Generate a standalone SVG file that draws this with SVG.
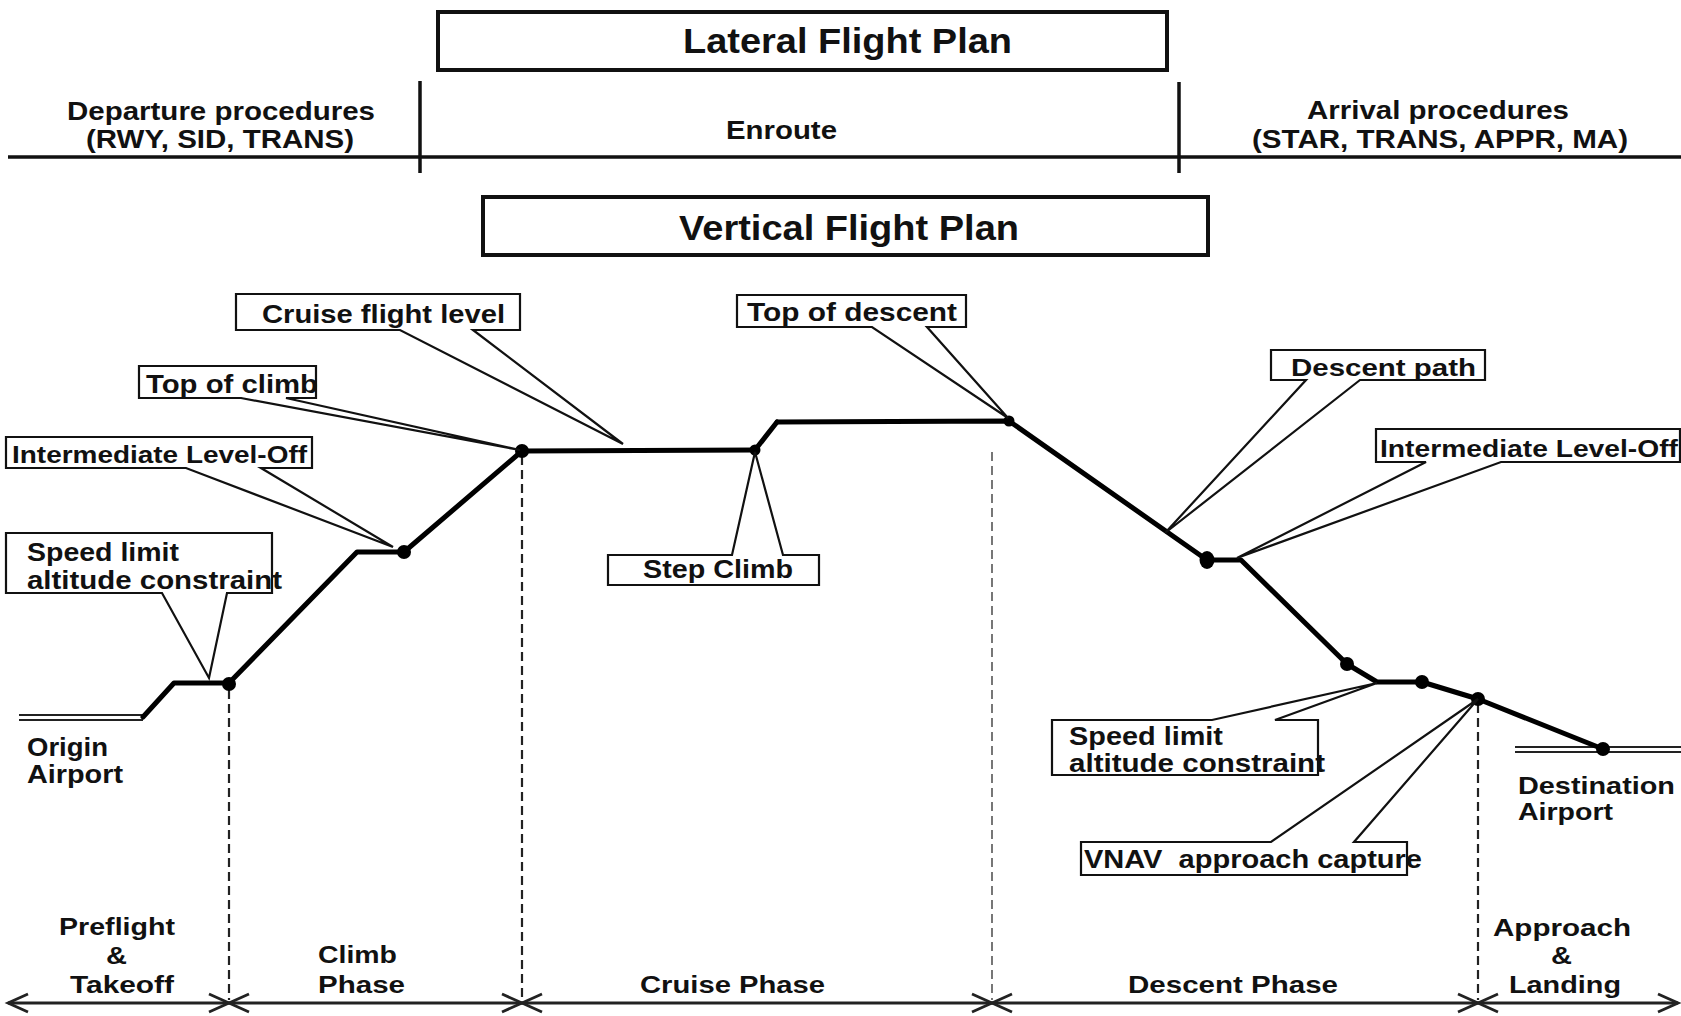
<svg xmlns="http://www.w3.org/2000/svg" width="1681" height="1016" viewBox="0 0 1681 1016">
<style>
text{font-family:"Liberation Sans",Arial,sans-serif;font-weight:bold;fill:#111;}
.t23{font-size:25px;}
.t22{font-size:24px;}
.t24{font-size:26px;}
.big{font-size:35px;}
.ph{font-size:24px;}
.box{fill:none;stroke:#111;stroke-width:4;}
.co{fill:none;stroke:#111;stroke-width:2.2;stroke-linejoin:miter;}
.rule{stroke:#111;stroke-width:3.5;fill:none;}
.path{fill:none;stroke:#000;stroke-width:5;stroke-linejoin:round;stroke-linecap:round;}
.dot{fill:#000;}
.dash{stroke:#222;stroke-width:2.2;stroke-dasharray:9 5;fill:none;}
.dashg{stroke:#555;stroke-width:1.6;stroke-dasharray:9 5;fill:none;}
.rwy{stroke:#222;stroke-width:1.8;fill:none;}
.tl{stroke:#222;stroke-width:3.2;fill:none;marker-start:url(#chev);marker-end:url(#chev);}
</style>
<defs>
<marker id="chev" markerUnits="userSpaceOnUse" viewBox="-24 -12 28 24" refX="0" refY="0" markerWidth="28" markerHeight="24" orient="auto-start-reverse">
<path d="M-20,-9 L0,0 L-20,9" fill="none" stroke="#222" stroke-width="2.8"/>
</marker>
</defs>
<rect width="1681" height="1016" fill="#fff"/>

<g id="header">
<g id="lateral-plan">
<rect class="box" x="438" y="12" width="729" height="58"/>
<text class="big" x="683" y="53" textLength="329" lengthAdjust="spacingAndGlyphs">Lateral Flight Plan</text>
</g>
<g id="header-rules">
<line class="rule" x1="8" y1="157" x2="1681" y2="157"/>
<line class="rule" x1="420" y1="81" x2="420" y2="173" stroke-width="3"/>
<line class="rule" x1="1179" y1="82" x2="1179" y2="173" stroke-width="3"/>
</g>
<g id="departure">
<text class="t23" x="67" y="120" textLength="308" lengthAdjust="spacingAndGlyphs">Departure procedures</text>
<text class="t23" x="86" y="148" textLength="268" lengthAdjust="spacingAndGlyphs">(RWY, SID, TRANS)</text>
</g>
<g id="enroute">
<text class="t23" x="726" y="139" textLength="111" lengthAdjust="spacingAndGlyphs">Enroute</text>
</g>
<g id="arrival">
<text class="t23" x="1307" y="119" textLength="262" lengthAdjust="spacingAndGlyphs">Arrival procedures</text>
<text class="t23" x="1252" y="148" textLength="376" lengthAdjust="spacingAndGlyphs">(STAR, TRANS, APPR, MA)</text>
</g>
<g id="vertical-plan">
<rect class="box" x="483" y="197" width="725" height="58"/>
<text class="big" x="679" y="240" textLength="340" lengthAdjust="spacingAndGlyphs">Vertical Flight Plan</text>
</g>
</g>

<g id="connectors">
<g id="guides">
<line class="dash" x1="229" y1="690" x2="229" y2="1000"/>
<line class="dash" x1="522" y1="456" x2="522" y2="1000"/>
<line class="dashg" x1="992" y1="452" x2="992" y2="1000"/>
<line class="dash" x1="1478" y1="704" x2="1478" y2="1000"/>
</g>
<g id="runways">
<line class="rwy" x1="19" y1="715" x2="143" y2="715"/>
<line class="rwy" x1="19" y1="720" x2="143" y2="720"/>
<line class="rwy" x1="1515" y1="747" x2="1681" y2="747"/>
<line class="rwy" x1="1515" y1="752" x2="1681" y2="752"/>
</g>
<g id="flight-path">
<polyline class="path" points="143,717 174,683 229,683 357,552 404,552 522,451 755,450"/>
<polyline class="path" points="755,450 777,422" stroke-width="6.5"/>
<polyline class="path" points="777,422 1009,421 1207,560 1241,560 1347,664 1377,682 1422,682 1478,699 1603,749" stroke-width="4.5"/>
<circle class="dot" cx="229" cy="684" r="7"/>
<circle class="dot" cx="404" cy="552" r="7"/>
<circle class="dot" cx="522" cy="451" r="7"/>
<circle class="dot" cx="755" cy="450" r="5.5"/>
<circle class="dot" cx="1009" cy="421" r="5.5"/>
<ellipse class="dot" cx="1207" cy="560" rx="7.5" ry="9"/>
<circle class="dot" cx="1347" cy="664" r="7"/>
<circle class="dot" cx="1422" cy="682" r="7"/>
<circle class="dot" cx="1478" cy="699" r="7"/>
<circle class="dot" cx="1603" cy="749" r="7"/>
</g>
<g id="timeline">
<line class="tl" x1="8" y1="1003" x2="229" y2="1003"/>
<line class="tl" x1="229" y1="1003" x2="522" y2="1003"/>
<line class="tl" x1="522" y1="1003" x2="992" y2="1003"/>
<line class="tl" x1="992" y1="1003" x2="1478" y2="1003"/>
<line class="tl" x1="1478" y1="1003" x2="1678" y2="1003"/>
</g>
</g>

<g id="cruise-flight-level">
<path class="co" d="M236,294 H520 V330 H473 L623,444 L400,330 H236 Z"/>
<text class="t23" x="262" y="323" textLength="243" lengthAdjust="spacingAndGlyphs">Cruise flight level</text>
</g>
<g id="top-of-climb">
<path class="co" d="M139,366 H316 V398 H286 L520,450 L241,398 H139 Z"/>
<text class="t23" x="146" y="393" textLength="172" lengthAdjust="spacingAndGlyphs">Top of climb</text>
</g>
<g id="intermediate-level-off-climb">
<path class="co" d="M6,437 H312 V468 H261 L393,547 L186,468 H6 Z"/>
<text class="t22" x="12" y="463" textLength="295" lengthAdjust="spacingAndGlyphs">Intermediate Level-Off</text>
</g>
<g id="speed-limit-climb">
<path class="co" d="M6,533 H272 V593 H227 L209,678 L162,593 H6 Z"/>
<text class="t23" x="27" y="561" textLength="152" lengthAdjust="spacingAndGlyphs">Speed limit</text>
<text class="t23" x="27" y="589" textLength="255" lengthAdjust="spacingAndGlyphs">altitude constraint</text>
</g>
<g id="origin-airport">
<text class="t23" x="27" y="756" textLength="81" lengthAdjust="spacingAndGlyphs">Origin</text>
<text class="t23" x="27" y="783" textLength="96" lengthAdjust="spacingAndGlyphs">Airport</text>
</g>
<g id="top-of-descent">
<path class="co" d="M737,295 H966 V327 H927 L1008,418 L872,327 H737 Z"/>
<text class="t24" x="747" y="321" textLength="210" lengthAdjust="spacingAndGlyphs">Top of descent</text>
</g>
<g id="step-climb">
<path class="co" d="M608,555 H732 L755,452 L783,555 H819 V585 H608 Z"/>
<text class="t24" x="643" y="578" textLength="150" lengthAdjust="spacingAndGlyphs">Step Climb</text>
</g>
<g id="descent-path">
<path class="co" d="M1271,350 H1485 V380 H1360 L1165,533 L1306,380 H1271 Z"/>
<text class="t22" x="1291" y="376" textLength="185" lengthAdjust="spacingAndGlyphs">Descent path</text>
</g>
<g id="intermediate-level-off-descent">
<path class="co" d="M1376,429 H1680 V462 H1501 L1237,558 L1426,462 H1376 Z"/>
<text class="t22" x="1380" y="457" textLength="298" lengthAdjust="spacingAndGlyphs">Intermediate Level-Off</text>
</g>
<g id="speed-limit-descent">
<path class="co" d="M1052,720 H1212 L1377,683 L1275,720 H1318 V775 H1052 Z"/>
<text class="t23" x="1069" y="745" textLength="154" lengthAdjust="spacingAndGlyphs">Speed limit</text>
<text class="t23" x="1069" y="772" textLength="256" lengthAdjust="spacingAndGlyphs">altitude constraint</text>
</g>
<g id="vnav-approach-capture">
<path class="co" d="M1081,842 H1271 L1478,699 L1354,842 H1407 V875 H1081 Z"/>
<text class="t24" x="1084" y="868" textLength="338" lengthAdjust="spacingAndGlyphs" xml:space="preserve">VNAV  approach capture</text>
</g>
<g id="destination-airport">
<text class="t22" x="1518" y="794" textLength="157" lengthAdjust="spacingAndGlyphs">Destination</text>
<text class="t22" x="1518" y="820" textLength="95" lengthAdjust="spacingAndGlyphs">Airport</text>
</g>

<g id="phase-preflight">
<text class="ph" x="59" y="935" textLength="116" lengthAdjust="spacingAndGlyphs">Preflight</text>
<text class="ph" x="106" y="964" textLength="21" lengthAdjust="spacingAndGlyphs">&amp;</text>
<text class="ph" x="70" y="993" textLength="104" lengthAdjust="spacingAndGlyphs">Takeoff</text>
</g>
<g id="phase-climb">
<text class="ph" x="318" y="963" textLength="79" lengthAdjust="spacingAndGlyphs">Climb</text>
<text class="ph" x="318" y="993" textLength="87" lengthAdjust="spacingAndGlyphs">Phase</text>
</g>
<g id="phase-cruise">
<text class="ph" x="640" y="993" textLength="185" lengthAdjust="spacingAndGlyphs">Cruise Phase</text>
</g>
<g id="phase-descent">
<text class="t22" x="1128" y="993" textLength="210" lengthAdjust="spacingAndGlyphs">Descent Phase</text>
</g>
<g id="phase-approach">
<text class="t22" x="1493" y="936" textLength="138" lengthAdjust="spacingAndGlyphs">Approach</text>
<text class="t22" x="1551" y="964" textLength="21" lengthAdjust="spacingAndGlyphs">&amp;</text>
<text class="t22" x="1509" y="993" textLength="112" lengthAdjust="spacingAndGlyphs">Landing</text>
</g>
</svg>
